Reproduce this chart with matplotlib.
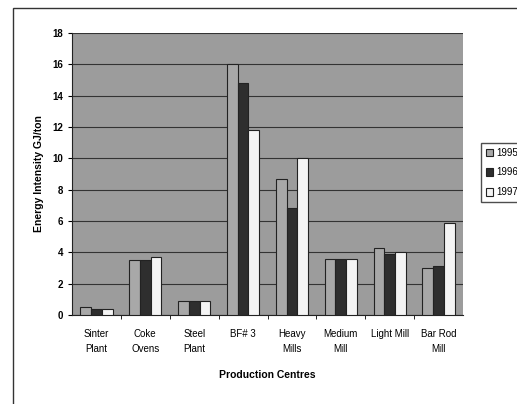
import numpy as np
import matplotlib.pyplot as plt
from matplotlib.patches import Rectangle

plt.rcParams['font.family'] = ['Liberation Sans', 'DejaVu Sans']

# data
centres = ['Sinter\nPlant', 'Coke\nOvens', 'Steel\nPlant', 'BF# 3', 'Heavy\nMills',
           'Medium\nMill', 'Light Mill', 'Bar Rod\nMill']
y1995 = [0.5, 3.5, 0.9, 16.0, 8.7, 3.6, 4.3, 3.0]
y1996 = [0.4, 3.5, 0.9, 14.8, 6.8, 3.6, 3.9, 3.1]
y1997 = [0.4, 3.7, 0.9, 11.8, 10.0, 3.6, 4.0, 5.9]
years = ['1995', '1996', '1997']
colours = ['#a8a8a8', '#2e2e2e', '#f4f4f4']

fig = plt.figure(figsize=(5.17, 4.04), dpi=100)
fig.patch.set_facecolor('white')
# outer chart frame
fig.patches.append(Rectangle((13 / 517, -0.05), 1.1, 1 - 8 / 404 + 0.05,
                             transform=fig.transFigure, fill=False,
                             edgecolor='#333333', linewidth=1.0))

ax = fig.add_axes([72 / 517, 89 / 404, 391 / 517, 282 / 404])
ax.set_facecolor('#9c9c9c')

x = np.arange(len(centres))
w = 0.22
series = [y1995, y1996, y1997]
for i, (vals, col, lab) in enumerate(zip(series, colours, years)):
    ax.bar(x + (i - 1) * w, vals, width=w, color=col, edgecolor='#222222',
           linewidth=0.8, label=lab, zorder=3)

ax.set_xlim(-0.5, len(centres) - 0.5)
ax.set_ylim(0, 18)
ax.set_yticks(range(0, 19, 2))
ax.yaxis.grid(True, color='#333333', linewidth=0.8, zorder=0)
ax.set_xticks(x)
ax.set_xticklabels(centres, fontsize=7, linespacing=1.6)
for t in ax.get_yticklabels():
    t.set_fontweight('bold')
ax.tick_params(axis='y', labelsize=7, length=3)
ax.tick_params(axis='x', length=0, pad=10)
ax.set_xticks(np.arange(0.5, len(centres) - 0.5, 1), minor=True)
ax.tick_params(axis='x', which='minor', length=3)
for s in ['top', 'right']:
    ax.spines[s].set_visible(False)
ax.spines['left'].set_color('#222222')
ax.spines['bottom'].set_color('#222222')

ax.set_ylabel('Energy Intensity GJ/ton', fontsize=7.5, fontweight='bold', labelpad=6)
ax.set_xlabel('Production Centres', fontsize=7.5, fontweight='bold', labelpad=12)

fig.legend(loc='upper left', bbox_to_anchor=(476 / 517, 1 - 138 / 404),
           fontsize=7, frameon=True, fancybox=False, edgecolor='#222222',
           handlelength=0.8, handleheight=0.8, handletextpad=0.3,
           labelspacing=1.0, borderpad=0.5)

fig.savefig('out.png', dpi=100)
